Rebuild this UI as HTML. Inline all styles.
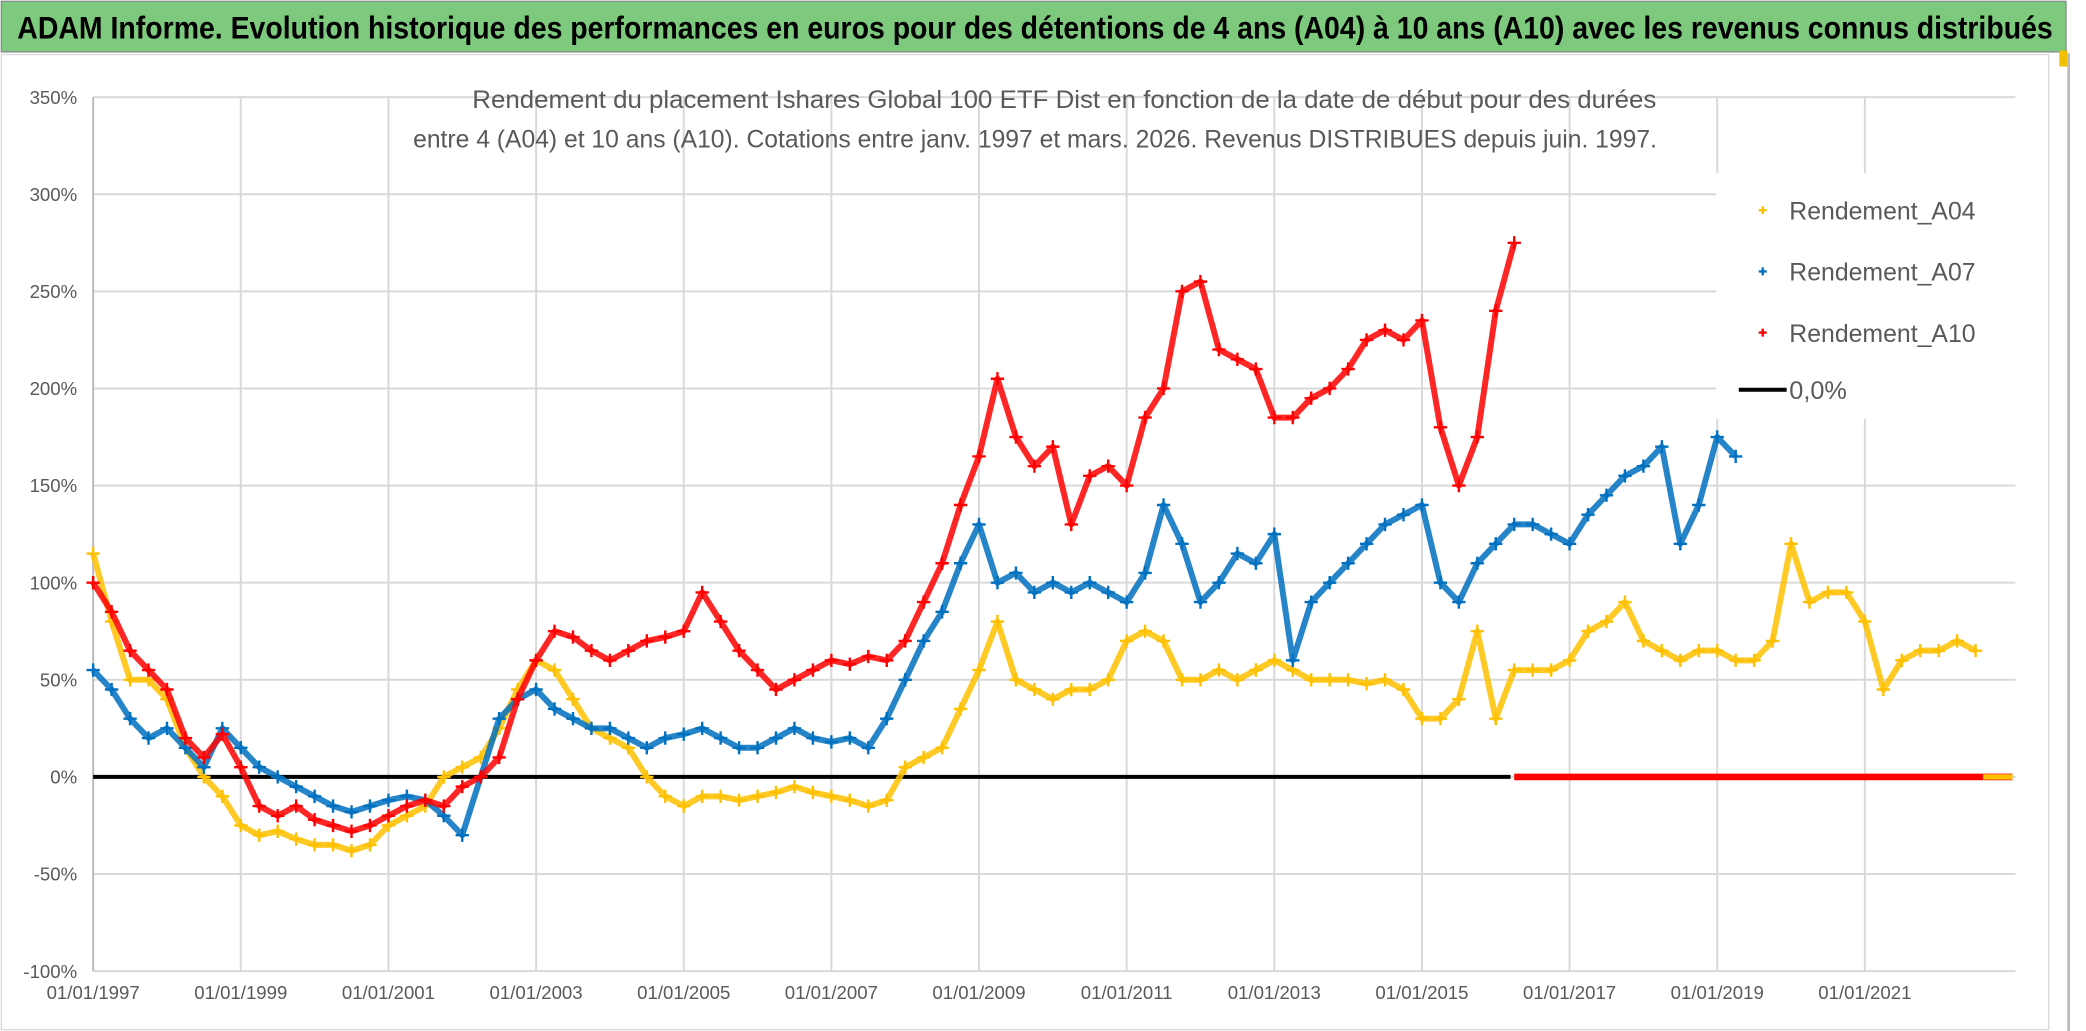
<!DOCTYPE html>
<html><head><meta charset="utf-8">
<style>
html,body{margin:0;padding:0;background:#fff;}
svg{display:block;font-family:"Liberation Sans Narrow","Liberation Sans",sans-serif;}
</style></head>
<body>
<svg id="chart" width="2086" height="1031" viewBox="0 0 1568 775" xmlns="http://www.w3.org/2000/svg">
<rect x="0" y="0" width="1568" height="775" fill="#fff"/>
<rect x="1" y="1" width="1552" height="38" fill="#7dc97d" stroke="#8a8a8a" stroke-width="1"/>
<text x="778" y="29" font-size="24" font-weight="bold" text-anchor="middle" textLength="1530" lengthAdjust="spacingAndGlyphs" fill="#000">ADAM Informe. Evolution historique des performances en euros pour des détentions de 4 ans (A04) à 10 ans (A10) avec les revenus connus distribués</text>
<rect x="1" y="41" width="1539" height="733" fill="none" stroke="#d9d9d9" stroke-width="1"/>
<line x1="1555" y1="40" x2="1555" y2="775" stroke="#bbb" stroke-width="2"/>
<rect x="1548" y="38" width="6" height="12" fill="#f0c000"/>
<g id="grid"></g>
<g id="axes"></g>
<g id="series"></g>
<text x="800" y="81" font-size="19" text-anchor="middle" fill="#595959" textLength="890" lengthAdjust="spacingAndGlyphs">Rendement du placement Ishares Global 100 ETF Dist en fonction de la date de début pour des durées</text>
<text x="778" y="111" font-size="19" text-anchor="middle" fill="#595959" textLength="935" lengthAdjust="spacingAndGlyphs">entre 4 (A04) et 10 ans (A10). Cotations entre janv. 1997 et mars. 2026. Revenus DISTRIBUES depuis juin. 1997.</text>
<g id="legend"></g>
</svg>
<script>
// ---- data ----
const yTicks = [350,300,250,200,150,100,50,0,-50,-100];
const xTickYears = [1997,1999,2001,2003,2005,2007,2009,2011,2013,2015,2017,2019,2021];
const xTickLabels = ["01/01/1997","01/01/1999","01/01/2001","01/01/2003","01/01/2005","01/01/2007","01/01/2009","01/01/2011","01/01/2013","01/01/2015","01/01/2017","01/01/2019","01/01/2021"];
const a04Start = 1997;
const a04Values = [115,80,50,50, 40,15,0,-10, -25,-30,-28,-32, -35,-35,-38,-35, -25,-20,-15,0, 5,10,25,45, 60,55,40,25, 20,15,0,-10, -15,-10,-10,-12, -10,-8,-5,-8, -10,-12,-15,-12, 5,10,15,35, 55,80,50,45, 40,45,45,50, 70,75,70,50, 50,55,50,55, 60,55,50,50, 50,48,50,45, 30,30,40,75, 30,55,55,55, 60,75,80,90, 70,65,60,65, 65,60,60,70, 120,90,95,95, 80,45,60,65, 65,70,65];
const a07Start = 1997;
const a07Values = [55,45,30,20, 25,15,5,25, 15,5,0,-5, -10,-15,-18,-15, -12,-10,-12,-20, -30,0,30,40, 45,35,30,25, 25,20,15,20, 22,25,20,15, 15,20,25,20, 18,20,15,30, 50,70,85,110, 130,100,105,95, 100,95,100,95, 90,105,140,120, 90,100,115,110, 125,60,90,100, 110,120,130,135, 140,100,90,110, 120,130,130,125, 120,135,145,155, 160,170,120,140, 175,165];
const a10Start = 1997;
const a10Values = [100,85,65,55, 45,20,10,22, 5,-15,-20,-15, -22,-25,-28,-25, -20,-15,-12,-15, -5,0,10,40, 60,75,72,65, 60,65,70,72, 75,95,80,65, 55,45,50,55, 60,58,62,60, 70,90,110,140, 165,205,175,160, 170,130,155,160, 150,185,200,250, 255,220,215,210, 185,185,195,200, 210,225,230,225, 235,180,150,175, 240,275];
const zeroRedStart = 2016.25, zeroRedEnd = 2023.0;
const zeroYellowStart = 2022.6, zeroYellowEnd = 2023.0;
const zeroLineEnd = 2016.2;
const step = 0.25;
// ---- scales ----
const X0=70, X1=1515, YR0=1997, YR1=2023.04;
const Y0=584, PXPER=73/50;
function xs(yr){return X0+(yr-YR0)*(X1-X0)/(YR1-YR0);}
function ys(v){return Y0-v*PXPER;}
const NS="http://www.w3.org/2000/svg";
function mk(tag,attrs,parent){const e=document.createElementNS(NS,tag);for(const k in attrs)e.setAttribute(k,attrs[k]);parent.appendChild(e);return e;}
const grid=document.getElementById('grid'), axes=document.getElementById('axes'), ser=document.getElementById('series');
yTicks.forEach(t=>{
  const l=mk('line',{x1:X0,x2:X1,y1:ys(t),y2:ys(t),stroke:'#d9d9d9','stroke-width':1.5},grid);
  
  
  const tx=mk('text',{x:58,y:ys(t)+5,'font-size':14,'text-anchor':'end',fill:'#595959'},axes);
  tx.textContent=t+'%';
  
  
});
xTickYears.forEach((yr,i)=>{
  const l=mk('line',{x1:xs(yr),x2:xs(yr),y1:ys(350),y2:ys(-100),stroke:'#d9d9d9','stroke-width':1.5},grid);
  
  
  const tx=mk('text',{x:xs(yr),y:751,'font-size':14,'text-anchor':'middle',fill:'#595959'},axes);
  tx.textContent=xTickLabels[i];
  
  
});
const ax=mk('line',{x1:X0,x2:X0,y1:ys(350),y2:ys(-100),stroke:'#bfbfbf','stroke-width':1.5},axes);


const zl=mk('line',{x1:X0,x2:xs(zeroLineEnd),y1:ys(0),y2:ys(0),stroke:'#000','stroke-width':3},ser);


function cross(g,x,y,c,s){mk('path',{d:`M${x-s} ${y}H${x+s}M${x} ${y-s}V${y+s}`,stroke:c,'stroke-width':1.8,fill:'none'},g);}
function drawSeries(name,start,vals,color){
  const g=mk('g',{},ser);
  
  
  const pts=vals.map((v,i)=>[xs(start+i*step),ys(v)]);
  mk('polyline',{points:pts.map(p=>p.join(',')).join(' '),fill:'none',stroke:color,'stroke-width':4.5,'stroke-linejoin':'round','stroke-opacity':0.85},g);
  pts.forEach(p=>cross(g,p[0],p[1],color,5));
}
drawSeries('series-a04',a04Start,a04Values,'#ffc000');
drawSeries('series-a07',a07Start,a07Values,'#0070c0');
drawSeries('series-a10',a10Start,a10Values,'#ff0000');
const zr=mk('line',{x1:xs(zeroRedStart),x2:xs(zeroRedEnd),y1:ys(0),y2:ys(0),stroke:'#ff0000','stroke-width':5},ser);


const zy=mk('line',{x1:xs(zeroYellowStart),x2:xs(zeroYellowEnd),y1:ys(0),y2:ys(0),stroke:'#ffc000','stroke-width':4},ser);


// legend
const lg=document.getElementById('legend');
mk('rect',{x:1290,y:130,width:240,height:185,fill:'#fff'},lg);
const items=[['Rendement_A04','#ffc000',158],['Rendement_A07','#0070c0',204],['Rendement_A10','#ff0000',250]];
items.forEach(it=>{
  const g=mk('g',{},lg);
  
  
  cross(g,1325,it[2],it[1],3);
  const t=mk('text',{x:1345,y:it[2]+7,'font-size':19,fill:'#595959',textLength:140,lengthAdjust:'spacingAndGlyphs'},g);
  t.textContent=it[0];
});
const g0=mk('g',{},lg);


mk('line',{x1:1307,x2:1343,y1:293,y2:293,stroke:'#000','stroke-width':3},g0);
const t0=mk('text',{x:1345,y:300,'font-size':19,fill:'#595959'},g0);
t0.textContent='0,0%';
</script>
</body></html>
